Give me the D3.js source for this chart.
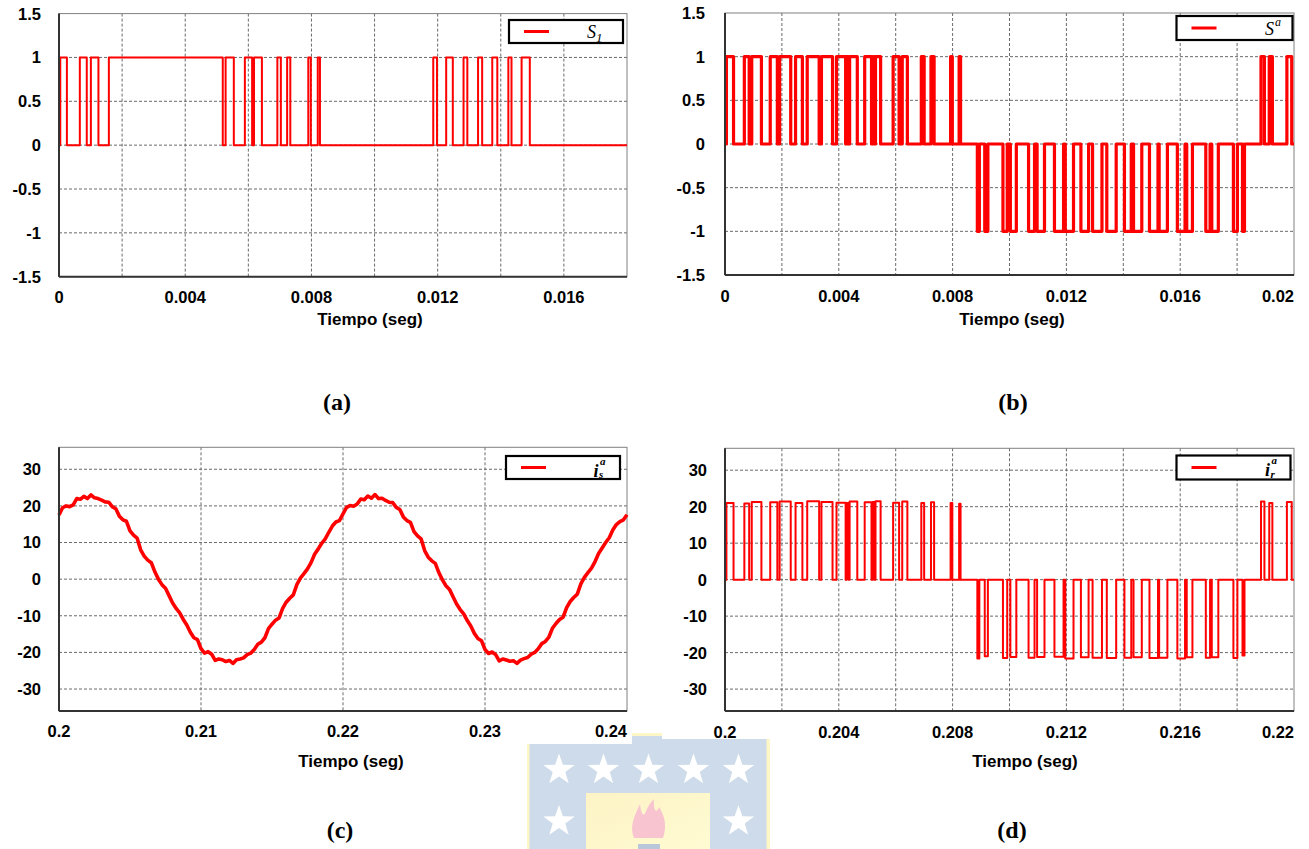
<!DOCTYPE html>
<html>
<head>
<meta charset="utf-8">
<script src="https://cdn.jsdelivr.net/npm/d3@7"></script>
<style>
body { margin: 0; background: white; }
text { font-family: "Liberation Sans", Arial, sans-serif; }
</style>
</head>
<body>
<div id="chart"></div>
<script>
// (a) S1 : on-intervals (ms)
var s1Start = [0.04, 0.66, 1.01, 1.58, 5.28, 5.89, 6.18, 6.92, 7.23, 7.90, 8.20, 11.86, 12.27, 12.82, 13.28, 13.73, 14.24, 14.66];
var s1End   = [0.25, 0.88, 1.25, 5.19, 5.54, 6.12, 6.43, 7.03, 7.33, 7.98, 8.27, 11.98, 12.48, 12.94, 13.41, 13.89, 14.34, 14.92];

// (b) S^a and (d) i_r^a : pulses (ms from start of window)
var saStart = [0.05, 0.68, 0.94, 1.59, 1.92, 2.48, 2.89, 3.39, 3.92, 4.27, 4.38, 4.91, 5.19, 5.29, 5.91, 6.23, 6.90, 7.24, 7.93, 8.23,
               8.87, 9.13, 9.77, 10.03, 10.67, 10.97, 11.58, 11.96, 12.51, 12.92, 13.42, 14.04, 14.36, 14.92, 15.26, 15.90, 16.23, 16.90, 17.11, 17.87, 18.19,
               18.84, 19.13, 19.75];
var saEnd   = [0.30, 0.85, 1.28, 1.84, 2.31, 2.72, 3.31, 3.78, 4.24, 4.34, 4.65, 5.15, 5.25, 5.47, 6.12, 6.41, 7.00, 7.35, 7.99, 8.28,
               8.94, 9.24, 9.92, 10.24, 10.88, 11.23, 11.90, 12.25, 12.78, 13.25, 13.75, 14.28, 14.65, 15.22, 15.55, 16.17, 16.43, 17.05, 17.34, 18.01, 18.26,
               18.96, 19.24, 19.92];
var saLevel = [1, 1, 1, 1, 1, 1, 1, 1, 1, 1, 1, 1, 1, 1, 1, 1, 1, 1, 1, 1,
               -1, -1, -1, -1, -1, -1, -1, -1, -1, -1, -1, -1, -1, -1, -1, -1, -1, -1, -1, -1, -1,
               1, 1, 1];
var irLevel = [21.0, 20.9, 21.3, 21.2, 21.4, 21.0, 21.5, 21.3, 21.1, 21.0, 21.4, 21.2, 21.3, 21.5, 21.1, 21.4, 21.0, 21.2, 21.0, 20.8,
               -21.6, -21.0, -21.5, -21.2, -21.4, -21.2, -21.1, -21.6, -21.3, -21.4, -21.5, -21.4, -21.3, -21.5, -21.4, -21.6, -21.3, -21.4, -21.3, -21.5, -20.8,
               21.4, 21.0, 21.3];

// (c) i_s^a : samples every 0.25 ms from t = 0.2 s
var isStep = 0.00025;
var isValues = [
  17.5, 19.5, 20.0, 19.8, 20.3, 22.0, 21.8, 22.6, 22.0, 23.0, 22.2, 22.0, 21.6, 21.1, 21.0, 19.8,
  19.2, 17.2, 16.2, 15.8, 13.2, 12.0, 11.2, 8.0, 6.3, 5.2, 4.5, 2.0, 0.0, -1.5, -2.5, -4.5,
  -6.5, -8.0, -9.2, -11.0, -12.5, -14.5, -16.0, -16.5, -19.0, -20.2, -19.8, -20.5, -22.2, -21.8, -22.0, -22.5,
  -22.2, -23.0, -22.0, -21.8, -21.5, -20.6, -20.2, -19.2, -17.8, -17.2, -16.0, -13.5, -12.3, -11.2, -10.6, -8.0,
  -6.3, -5.2, -4.3, -1.5, 0.3, 1.5, 2.8, 4.5, 6.8, 8.2, 9.8, 11.0, 12.8, 14.5, 15.6, 16.0,
  17.8, 19.6, 20.1, 19.9, 20.5, 21.9, 21.7, 22.7, 22.1, 23.1, 22.0, 22.1, 21.5, 21.0, 20.9, 19.6,
  19.0, 17.0, 16.0, 15.5, 13.0, 11.8, 11.0, 7.8, 6.0, 5.0, 4.3, 1.8, -0.2, -1.8, -2.8, -4.8,
  -6.8, -8.3, -9.5, -11.3, -12.8, -14.8, -16.2, -16.8, -19.2, -20.3, -19.9, -20.6, -22.3, -21.8, -22.1, -22.4,
  -22.3, -23.0, -22.1, -21.7, -21.4, -20.5, -20.0, -19.0, -17.6, -17.0, -15.8, -13.4, -12.1, -11.0, -10.4, -7.8,
  -6.1, -5.0, -4.1, -1.3, 0.5, 1.8, 3.0, 4.8, 7.0, 8.5, 10.0, 11.3, 13.4, 14.9, 15.7, 16.2,
  17.6
];

// axis ticks and grid
var xTicksA = [0, 0.004, 0.008, 0.012, 0.016];
var xGridA  = [0.002, 0.004, 0.006, 0.008, 0.01, 0.012, 0.014, 0.016];
var xTicksB = [0, 0.004, 0.008, 0.012, 0.016, 0.02];
var xGridB  = [0.002, 0.004, 0.006, 0.008, 0.01, 0.012, 0.014, 0.016, 0.018];
var xTicksC = [0.2, 0.21, 0.22, 0.23, 0.24];
var xGridC  = [0.21, 0.22, 0.23];
var xTicksD = [0.2, 0.204, 0.208, 0.212, 0.216, 0.22];
var xGridD  = [0.202, 0.204, 0.206, 0.208, 0.21, 0.212, 0.214, 0.216, 0.218];
var yTicksS = [1.5, 1, 0.5, 0, -0.5, -1, -1.5];
var yTicksI = [30, 20, 10, 0, -10, -20, -30];

var svg = d3.select('#chart').append('svg')
    .attr('width', 1309).attr('height', 849)
    .style('background', 'white');

// build a stepped series from pulses
function pulseSeries(starts, ends, levels, t0, tEnd) {
    var pts = [{t: t0, v: 0}];
    for (var i = 0; i < starts.length; i++) {
        var s = t0 + starts[i] / 1000, e = t0 + ends[i] / 1000;
        pts.push({t: s, v: 0}, {t: s, v: levels[i]}, {t: e, v: levels[i]}, {t: e, v: 0});
    }
    pts.push({t: tEnd, v: 0});
    return pts;
}

//watermark logo (behind the charts)
var logo = svg.append('g');
logo.append('rect').attr('x', 527).attr('y', 733).attr('width', 243).attr('height', 120).attr('fill', '#fdf6c6');
logo.append('rect').attr('x', 529.5).attr('y', 736).attr('width', 237).attr('height', 120).attr('fill', '#cddbea');
var grad = svg.append('defs').append('linearGradient').attr('id', 'yel')
    .attr('x1', 0).attr('y1', 0).attr('x2', 1).attr('y2', 1);
grad.append('stop').attr('offset', 0).attr('stop-color', '#fdf3c6');
grad.append('stop').attr('offset', 1).attr('stop-color', '#fffbd2');
logo.append('rect').attr('x', 586).attr('y', 793).attr('width', 124).attr('height', 60).attr('fill', 'url(#yel)');
function starPath(cx, cy, R) {
    var p = [];
    for (var k = 0; k < 10; k++) {
        var r = k % 2 ? R * 0.4 : R, a = -Math.PI / 2 + k * Math.PI / 5;
        p.push([cx + r * Math.cos(a), cy + r * Math.sin(a)]);
    }
    return 'M' + p.join('L') + 'Z';
}
[[559, 770], [603.5, 770], [648.5, 770], [693.5, 770], [738.5, 770], [559, 821.5], [738.5, 821.5]].forEach(function(s) {
    logo.append('path').attr('d', starPath(s[0], s[1], 16.5)).attr('fill', 'white');
});
logo.append('path')
    .attr('d', 'M634,838 C629,826 635,815 640,804 C641,814 644,818 646,811 C648,806 651,802 654,799 C653,809 656,815 659,807 C663,813 668,824 663,838 Z')
    .attr('fill', '#f7c4cf');
logo.append('rect').attr('x', 638).attr('y', 844).attr('width', 22).attr('height', 6).attr('fill', '#b9c7da');
// chart images cover the top of the logo
svg.append('rect').attr('x', 500).attr('y', 700).attr('width', 132).attr('height', 44).attr('fill', 'white');
svg.append('rect').attr('x', 662).attr('y', 700).attr('width', 140).attr('height', 39).attr('fill', 'white');

function drawPanel(o) {
    var g = svg.append('g');
    var x = d3.scaleLinear().domain(o.xDom).range([o.left, o.right]);
    var y = d3.scaleLinear().domain(o.yDom).range([o.bottom, o.top]);

    //grid lines
    g.selectAll('.gx').data(o.xGrid).enter().append('line')
        .attr('x1', function(d) { return x(d); }).attr('x2', function(d) { return x(d); })
        .attr('y1', o.top).attr('y2', o.bottom)
        .attr('stroke', '#6a6a6a').attr('stroke-width', 1).attr('stroke-dasharray', '3,2');
    g.selectAll('.gy').data(o.yGrid).enter().append('line')
        .attr('x1', o.left).attr('x2', o.right)
        .attr('y1', function(d) { return y(d); }).attr('y2', function(d) { return y(d); })
        .attr('stroke', '#6a6a6a').attr('stroke-width', 1).attr('stroke-dasharray', '3,2');

    //plot border
    g.append('rect')
        .attr('x', o.left).attr('y', o.top)
        .attr('width', o.right - o.left).attr('height', o.bottom - o.top)
        .attr('fill', 'none').attr('stroke', '#808080').attr('stroke-width', 1);

    //data line
    var line = d3.line().x(function(d) { return x(d.t); }).y(function(d) { return y(d.v); });
    g.append('path').datum(o.data)
        .attr('d', line)
        .attr('fill', 'none').attr('stroke', '#ff0000')
        .attr('stroke-width', o.lineWidth).attr('stroke-linejoin', 'round');

    //axis lines
    g.append('line').attr('x1', o.left).attr('x2', o.left).attr('y1', o.top).attr('y2', o.bottom)
        .attr('stroke', '#333').attr('stroke-width', 2);
    g.append('line').attr('x1', o.left).attr('x2', o.right).attr('y1', o.bottom).attr('y2', o.bottom)
        .attr('stroke', '#333').attr('stroke-width', 2);

    //tick labels
    g.selectAll('.yl').data(o.yTicks).enter().append('text')
        .text(function(d) { return String(d); })
        .attr('x', o.yLabelX).attr('y', function(d) { return y(d); }).attr('dy', '0.36em')
        .attr('text-anchor', 'end')
        .attr('font-size', '16.5px').attr('font-weight', 'bold').attr('fill', 'black');
    g.selectAll('.xl').data(o.xTicks).enter().append('text')
        .text(function(d) { return String(d); })
        .attr('x', function(d) { return x(d); }).attr('y', o.xLabelY)
        .attr('text-anchor', function(d, i) { return (o.lastEnd && i == o.xTicks.length - 1) ? 'end' : 'middle'; })
        .attr('font-size', '16.5px').attr('font-weight', 'bold').attr('fill', 'black');

    //axis title
    g.append('text').text('Tiempo (seg)')
        .attr('x', o.titleX).attr('y', o.titleY).attr('text-anchor', 'middle')
        .attr('font-size', '17px').attr('font-weight', 'bold').attr('fill', 'black');

    //panel letter
    g.append('text').text(o.letter)
        .attr('x', o.letterX).attr('y', o.letterY).attr('text-anchor', 'middle')
        .style('font-family', '"Liberation Serif", "Times New Roman", serif')
        .attr('font-size', '24px').attr('font-weight', 'bold').attr('fill', 'black');

    //legend
    var L = o.legend;
    g.append('rect').attr('x', L.x).attr('y', L.y).attr('width', L.w).attr('height', L.h)
        .attr('fill', 'white').attr('stroke', 'black').attr('stroke-width', 2.2);
    g.append('line').attr('x1', L.x + 15).attr('x2', L.x + 40)
        .attr('y1', L.y + L.h / 2).attr('y2', L.y + L.h / 2)
        .attr('stroke', '#ff0000').attr('stroke-width', 3);
    L.draw(g);
}

function serif(g) {
    return g.append('text').style('font-family', '"Liberation Serif", "Times New Roman", serif').attr('fill', 'black');
}

// (a)
drawPanel({
    left: 59, right: 627, top: 13.6, bottom: 276.7,
    xDom: [0, 0.018], yDom: [-1.5, 1.5],
    xGrid: xGridA, yGrid: [1, 0.5, 0, -0.5, -1],
    xTicks: xTicksA, yTicks: yTicksS, lastEnd: false,
    yLabelX: 41, xLabelY: 303,
    titleX: 370, titleY: 325, letter: '(a)', letterX: 337, letterY: 410,
    data: pulseSeries(s1Start, s1End, s1Start.map(function() { return 1; }), 0, 0.018),
    lineWidth: 2,
    legend: {x: 509, y: 20, w: 114, h: 23, draw: function(g) {
        var t = serif(g).attr('x', 587).attr('y', 38).attr('font-style', 'italic').attr('font-size', '18px');
        t.append('tspan').text('S');
        t.append('tspan').text('1').attr('font-size', '13px').attr('dy', 4);
    }}
});

// (b)
drawPanel({
    left: 725, right: 1294, top: 13, bottom: 275,
    xDom: [0, 0.02], yDom: [-1.5, 1.5],
    xGrid: xGridB, yGrid: [1, 0.5, 0, -0.5, -1],
    xTicks: xTicksB, yTicks: yTicksS, lastEnd: true,
    yLabelX: 705, xLabelY: 302,
    titleX: 1012, titleY: 325, letter: '(b)', letterX: 1013, letterY: 410,
    data: pulseSeries(saStart, saEnd, saLevel, 0, 0.02),
    lineWidth: 3.2,
    legend: {x: 1176.5, y: 16, w: 116, h: 24, draw: function(g) {
        var t = serif(g).attr('x', 1265).attr('y', 35).attr('font-style', 'italic').attr('font-size', '18px');
        t.append('tspan').text('S');
        t.append('tspan').text('a').attr('font-size', '12px').attr('dy', -9).attr('dx', 1);
    }}
});

// (c)
drawPanel({
    left: 59, right: 627, top: 447.3, bottom: 711,
    xDom: [0.2, 0.24], yDom: [-36, 36],
    xGrid: xGridC, yGrid: yTicksI,
    xTicks: xTicksC, yTicks: yTicksI, lastEnd: true,
    yLabelX: 41, xLabelY: 737,
    titleX: 351, titleY: 767, letter: '(c)', letterX: 340, letterY: 838,
    data: isValues.map(function(v, i) { return {t: 0.2 + i * isStep, v: v}; }),
    lineWidth: 3.6,
    legend: {x: 506, y: 456, w: 114, h: 23, draw: function(g) {
        serif(g).text('i').attr('x', 593.5).attr('y', 476.5).attr('font-style', 'italic').attr('font-weight', 'bold').attr('font-size', '18px');
        serif(g).text('a').attr('x', 600).attr('y', 465).attr('font-style', 'italic').attr('font-weight', 'bold').attr('font-size', '11px');
        serif(g).text('s').attr('x', 599).attr('y', 478).attr('font-style', 'italic').attr('font-weight', 'bold').attr('font-size', '11px');
    }}
});

// (d)
drawPanel({
    left: 725, right: 1294, top: 448.3, bottom: 711,
    xDom: [0.2, 0.22], yDom: [-36, 36],
    xGrid: xGridD, yGrid: yTicksI,
    xTicks: xTicksD, yTicks: yTicksI, lastEnd: true,
    yLabelX: 707, xLabelY: 738,
    titleX: 1025, titleY: 767, letter: '(d)', letterX: 1012, letterY: 838,
    data: pulseSeries(saStart, saEnd, irLevel, 0.2, 0.22),
    lineWidth: 2,
    legend: {x: 1176.5, y: 455.5, w: 114, h: 24, draw: function(g) {
        serif(g).text('i').attr('x', 1265).attr('y', 475.5).attr('font-style', 'italic').attr('font-weight', 'bold').attr('font-size', '18px');
        serif(g).text('a').attr('x', 1271.5).attr('y', 464).attr('font-style', 'italic').attr('font-weight', 'bold').attr('font-size', '11px');
        serif(g).text('r').attr('x', 1270.5).attr('y', 477.5).attr('font-style', 'italic').attr('font-weight', 'bold').attr('font-size', '11px');
    }}
});
</script>
</body>
</html>
